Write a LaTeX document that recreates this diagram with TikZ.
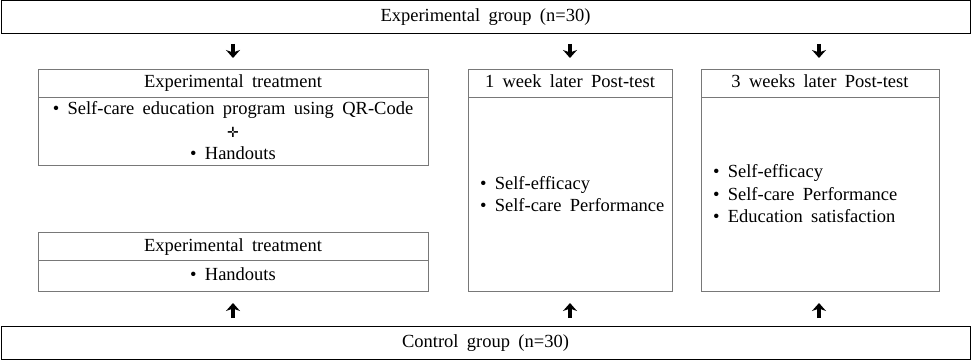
\documentclass[tikz,border=0pt]{standalone}
\usepackage{fontspec}
\setmainfont{Liberation Serif}
\newfontfamily\symfont{DejaVu Sans}
\usetikzlibrary{positioning,arrows.meta}
\definecolor{boxgray}{RGB}{120,120,120}
\newcommand\diagfont{\fontsize{18.5}{22.5}\selectfont\spaceskip=0.45em plus 0.1em\relax}
\tikzset{
  every node/.style={font=\diagfont, outer sep=0pt},
  grpbox/.style={draw=black, line width=1pt, minimum width=969pt, minimum height=33pt, inner sep=0pt},
  headbox/.style={draw=boxgray, line width=0.8pt, minimum height=28pt, inner sep=0pt},
  bodybox/.style={draw=boxgray, line width=0.8pt, inner ysep=0pt},
  itemtext/.style={anchor=west, align=left, inner sep=0pt},
  flowarrow/.style={line width=3.2pt, -{Stealth[length=8pt,width=14pt,inset=2.5pt]}}
}
\begin{document}
\begin{tikzpicture}[x=1pt,y=-1pt]
  \useasboundingbox (0,0) rectangle (972,361);
  \node[grpbox] (exp) at (485.5,17.5) {\strut Experimental group (n=30)};
  \node[grpbox] (ctl) at (485.5,343) {\strut Control group (n=30)};

  \node[headbox, minimum width=390pt] (trtA) at (233,83) {\strut Experimental treatment};
  \node[bodybox, minimum width=390pt, minimum height=68pt, align=center, below=0pt of trtA] (trtAbody)
    {•\ Self-care education program using QR-Code\\ {\symfont\fontsize{14}{14}\selectfont ✛}\\ •\ Handouts};
  \node[headbox, minimum width=390pt] (trtB) at (233,246.5) {\strut Experimental treatment};
  \node[bodybox, minimum width=390pt, minimum height=30.5pt, below=0pt of trtB] (trtBbody) {\strut •\ Handouts};

  \node[headbox, minimum width=204pt] (wk1) at (570,83) {\strut 1 week later Post-test};
  \node[bodybox, minimum width=204pt, minimum height=194pt, below=0pt of wk1] (wk1body) {};
  \node[itemtext] (wk1txt) at ([xshift=12pt]wk1body.west) {•\ Self-efficacy\\ •\ Self-care Performance};
  \node[headbox, minimum width=238pt] (wk3) at (820,83) {\strut 3 weeks later Post-test};
  \node[bodybox, minimum width=238pt, minimum height=194pt, below=0pt of wk3] (wk3body) {};
  \node[itemtext] (wk3txt) at ([xshift=12pt]wk3body.west)
    {•\ Self-efficacy\\ •\ Self-care Performance\\ •\ Education satisfaction};

  \foreach \n/\x in {a/233,b/570,c/819} {
    \coordinate (dn\n) at (\x,44);
    \coordinate (dn\n') at (\x,58);
    \coordinate (up\n) at (\x,318);
    \coordinate (up\n') at (\x,303);
    \draw[flowarrow] (dn\n) -- (dn\n');
    \draw[flowarrow] (up\n) -- (up\n');
  }
\end{tikzpicture}
\end{document}
